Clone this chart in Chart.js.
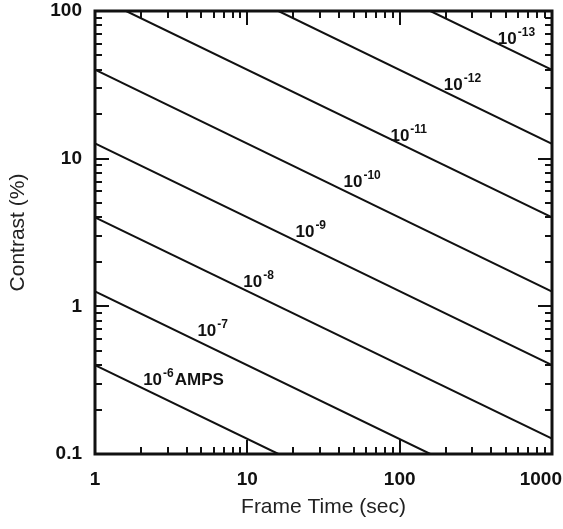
<!DOCTYPE html>
<html>
<head>
<meta charset="utf-8">
<title>Contrast vs Frame Time</title>
<script src="https://cdn.jsdelivr.net/npm/chart.js@4.4.1/dist/chart.umd.min.js"></script>
<style>
  body { margin: 0; background: #fff; }
  #chart { display: block; }
</style>
</head>
<body>
<canvas id="chart" width="563" height="529"></canvas>
<script>
// Current for each line, as the exponent of 10 (amps)
var currentExps = ['-6', '-7', '-8', '-9', '-10', '-11', '-12', '-13'];
// Where each line enters and leaves the plot
var startX = [1, 1, 1, 1, 1, 1.6, 16, 159];
var startY = [0.4, 1.26, 4, 12.7, 40, 100, 100, 100];
var endX = [16, 159, 1000, 1000, 1000, 1000, 1000, 1000];
var endY = [0.1, 0.1, 0.127, 0.4, 1.26, 4, 12.6, 40];
// Label anchors (left edge of "10", on the baseline), in data units
var labelX = [2.07, 4.7, 9.4, 20.7, 42.8, 87, 195, 441];
var labelY = [0.292, 0.63, 1.36, 2.97, 6.47, 13.2, 29.3, 60];
var labelSuffix = ['AMPS', '', '', '', '', '', '', ''];

// Axis ticks
var xTicks = [1, 10, 100, 1000];
var yTicks = [0.1, 1, 10, 100];
var minorSteps = [2, 3, 4, 5, 6, 7, 8, 9];

var FONT = '"Liberation Sans", Arial, Helvetica, sans-serif';

function minorTicks(majors) {
    var out = [];
    for (var i = 0; i < majors.length - 1; i++) {
        minorSteps.forEach(function(m) { out.push(majors[i] * m); });
    }
    return out;
}

// Frame, inside tick marks, x tick labels and the current labels
var frameLines = {
    id: 'frameLines',
    afterDraw: function(chart) {
        var ctx = chart.ctx;
        var a = chart.chartArea;
        var xs = chart.scales.x, ys = chart.scales.y;
        ctx.save();
        ctx.strokeStyle = '#111';

        // inner ticks on all four sides
        ctx.lineWidth = 2;
        function xTick(v, len) {
            var px = Math.round(xs.getPixelForValue(v));
            ctx.beginPath();
            ctx.moveTo(px, a.bottom); ctx.lineTo(px, a.bottom - len);
            ctx.moveTo(px, a.top); ctx.lineTo(px, a.top + len);
            ctx.stroke();
        }
        function yTick(v, len) {
            var py = Math.round(ys.getPixelForValue(v));
            ctx.beginPath();
            ctx.moveTo(a.left, py); ctx.lineTo(a.left + len, py);
            ctx.moveTo(a.right, py); ctx.lineTo(a.right - len, py);
            ctx.stroke();
        }
        xTicks.forEach(function(v) { xTick(v, 14); });
        minorTicks(xTicks).forEach(function(v) { xTick(v, 7); });
        yTicks.forEach(function(v) { yTick(v, 14); });
        minorTicks(yTicks).forEach(function(v) { yTick(v, 7); });

        // frame
        ctx.lineWidth = 3;
        ctx.strokeRect(a.left, a.top, a.right - a.left, a.bottom - a.top);

        // x tick labels, kept inside the canvas
        ctx.fillStyle = '#111';
        ctx.font = 'bold 19px ' + FONT;
        ctx.textBaseline = 'alphabetic';
        ctx.textAlign = 'left';
        xTicks.forEach(function(v) {
            var txt = String(v);
            var w = ctx.measureText(txt).width;
            var px = xs.getPixelForValue(v) - w / 2;
            px = Math.min(px, chart.width - 1 - w);
            ctx.fillText(txt, px, a.bottom + 31);
        });

        // current labels: 10 with superscript exponent
        currentExps.forEach(function(e, i) {
            var px = xs.getPixelForValue(labelX[i]);
            var py = ys.getPixelForValue(labelY[i]);
            ctx.font = 'bold 17px ' + FONT;
            ctx.fillText('10', px, py);
            var x2 = px + ctx.measureText('10').width + 1;
            ctx.font = 'bold 12px ' + FONT;
            ctx.fillText(e, x2, py - 8);
            if (labelSuffix[i]) {
                var x3 = x2 + ctx.measureText(e).width + 1;
                ctx.font = 'bold 17px ' + FONT;
                ctx.fillText(labelSuffix[i], x3, py);
            }
        });
        ctx.restore();
    }
};

var datasets = currentExps.map(function(e, i) {
    return {
        label: '1e' + e + ' A',
        data: [{ x: startX[i], y: startY[i] }, { x: endX[i], y: endY[i] }],
        borderColor: '#111',
        borderWidth: 2,
        pointRadius: 0,
        fill: false,
        tension: 0
    };
});

new Chart(document.getElementById('chart').getContext('2d'), {
    type: 'line',
    data: { datasets: datasets },
    options: {
        responsive: false,
        animation: false,
        layout: { padding: { top: 11, right: 11, left: 0, bottom: 0 } },
        plugins: {
            legend: { display: false },
            tooltip: { enabled: false }
        },
        scales: {
            x: {
                type: 'logarithmic',
                min: 1,
                max: 1000,
                grid: { display: false, drawTicks: false },
                border: { display: false },
                ticks: { display: false },
                title: {
                    display: true,
                    text: 'Frame Time (sec)',
                    color: '#222',
                    font: { family: FONT, size: 21 },
                    padding: { top: 0, bottom: 9 }
                },
                afterBuildTicks: function(s) { s.ticks = xTicks.map(function(v) { return { value: v }; }); },
                afterFit: function(s) { s.height = 75; s.paddingLeft = 0; s.paddingRight = 0; }
            },
            y: {
                type: 'logarithmic',
                min: 0.1,
                max: 100,
                grid: { display: false, drawTicks: false },
                border: { display: false },
                ticks: {
                    color: '#111',
                    padding: 13,
                    font: { family: FONT, size: 19, weight: 'bold' },
                    callback: function(v) { return String(v); }
                },
                title: {
                    display: true,
                    text: 'Contrast (%)',
                    color: '#222',
                    font: { family: FONT, size: 21 },
                    padding: { top: 6, bottom: 0 }
                },
                afterBuildTicks: function(s) { s.ticks = yTicks.map(function(v) { return { value: v }; }); },
                afterFit: function(s) { s.width = 95; s.paddingTop = 0; s.paddingBottom = 0; }
            }
        }
    },
    plugins: [frameLines]
});
</script>
</body>
</html>
